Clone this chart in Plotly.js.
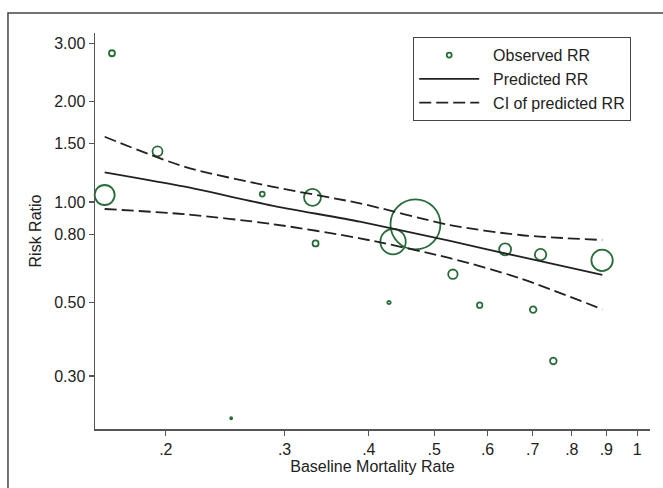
<!DOCTYPE html>
<html>
<head>
<meta charset="utf-8">
<script src="https://cdn.plot.ly/plotly-3.0.1.min.js"></script>
<style>
html,body{margin:0;padding:0;background:#fff;}
#chart{width:663px;height:488px;}
</style>
</head>
<body>
<div id="chart"></div>
<script>
// Observed studies
const studyRate = [0.1664, 0.1944, 0.1623, 0.278, 0.330, 0.3335, 0.250, 0.469, 0.4345, 0.4285, 0.533, 0.584, 0.637, 0.719, 0.701, 0.751, 0.887];
const studyRR   = [2.80, 1.42, 1.05, 1.057, 1.033, 0.751, 0.224, 0.857, 0.760, 0.499, 0.607, 0.490, 0.721, 0.695, 0.475, 0.333, 0.668];
const studyWeight = [6, 10, 20, 5, 17, 6, 2, 50, 25.4, 3.4, 9.4, 5.4, 12, 11.4, 6.6, 6.6, 21.4];

// Meta-regression fit
const fitRate = [0.1623, 0.2135, 0.2873, 0.3879, 0.5278, 0.6703, 0.8877];
const predRR  = [1.228, 1.112, 0.976, 0.873, 0.764, 0.685, 0.604];
const ciUpper = [1.571, 1.276, 1.113, 0.991, 0.853, 0.796, 0.769];
const ciLower = [0.953, 0.919, 0.859, 0.778, 0.678, 0.590, 0.476];

// Axis ticks
const xTickVals = [0.2, 0.3, 0.4, 0.5, 0.6, 0.7, 0.8, 0.9, 1];
const xTickText = ['.2', '.3', '.4', '.5', '.6', '.7', '.8', '.9', '1'];
const yTickVals = [0.3, 0.5, 0.8, 1.0, 1.5, 2.0, 3.0];
const yTickText = ['0.30', '0.50', '0.80', '1.00', '1.50', '2.00', '3.00'];

const green = '#2a6b3a';
const ink = '#222222';
const axisCol = '#555555';
const FONT = 'Liberation Sans, Arial, Helvetica, sans-serif';
const GAP = '\u00A0\u00A0';

const traces = [
  {
    x: studyRate, y: studyRR, type: 'scatter', mode: 'markers',
    name: 'Observed RR', showlegend: false, cliponaxis: false,
    marker: {symbol: 'circle-open', size: studyWeight, sizemode: 'diameter', opacity: 1,
             color: green, line: {color: green, width: 1.8}},
    hoverinfo: 'x+y'
  },
  {
    x: [null], y: [null], type: 'scatter', mode: 'markers',
    name: GAP + 'Observed RR', legendgroup: 'a',
    marker: {symbol: 'circle-open', size: 5, opacity: 1, color: green, line: {color: green, width: 1.8}}
  },
  {
    x: fitRate, y: predRR, type: 'scatter', mode: 'lines',
    name: GAP + 'Predicted RR', legendgroup: 'b',
    line: {color: ink, width: 1.8, shape: 'spline', smoothing: 0.6}
  },
  {
    x: fitRate, y: ciUpper, type: 'scatter', mode: 'lines',
    name: GAP + 'CI of predicted RR', legendgroup: 'c',
    line: {color: ink, width: 1.8, dash: '12px,5px', shape: 'spline', smoothing: 0.8}
  },
  {
    x: fitRate, y: ciLower, type: 'scatter', mode: 'lines',
    name: 'CI lower', showlegend: false, legendgroup: 'c',
    line: {color: ink, width: 1.8, dash: '12px,5px', shape: 'spline', smoothing: 0.8}
  }
];

const layout = {
  width: 663, height: 488,
  margin: {l: 95, r: 13, t: 33, b: 59, pad: 0},
  paper_bgcolor: '#ffffff', plot_bgcolor: '#ffffff',
  font: {family: FONT, size: 16, color: ink},
  showlegend: true,
  legend: {
    x: 0.573, y: 0.99, xanchor: 'left', yanchor: 'top',
    bordercolor: '#444', borderwidth: 1.2, bgcolor: '#ffffff',
    font: {family: FONT, size: 16, color: ink},
    itemwidth: 60, traceorder: 'grouped', tracegroupgap: 0,
    itemclick: false, itemdoubleclick: false
  },
  xaxis: {
    type: 'log', range: [-0.804, 0.019],
    tickvals: xTickVals, ticktext: xTickText,
    ticks: 'outside', ticklen: 5, tickwidth: 1.2, tickcolor: axisCol,
    showline: true, linecolor: axisCol, linewidth: 1.5,
    showgrid: false, zeroline: false,
    tickfont: {family: FONT, size: 16, color: ink},
    title: {text: 'Baseline Mortality Rate', font: {family: FONT, size: 16, color: ink}, standoff: 2}
  },
  yaxis: {
    type: 'log', range: [-0.682, 0.508],
    tickvals: yTickVals, ticktext: yTickText,
    ticks: 'outside', ticklen: 5, tickwidth: 1.2, tickcolor: axisCol,
    showline: true, linecolor: axisCol, linewidth: 1.5,
    showgrid: false, zeroline: false,
    tickfont: {family: FONT, size: 16, color: ink},
    title: {text: 'Risk Ratio', font: {family: FONT, size: 16, color: ink}, standoff: 8}
  },
  shapes: [
    {type: 'rect', xref: 'paper', yref: 'paper',
     x0: -0.1568, x1: 1.2, y0: -0.3, y1: 1.0505,
     line: {color: '#444', width: 1.5}, fillcolor: 'rgba(0,0,0,0)', layer: 'below'}
  ]
};

Plotly.newPlot('chart', traces, layout, {displayModeBar: false, staticPlot: true});
</script>
</body>
</html>
